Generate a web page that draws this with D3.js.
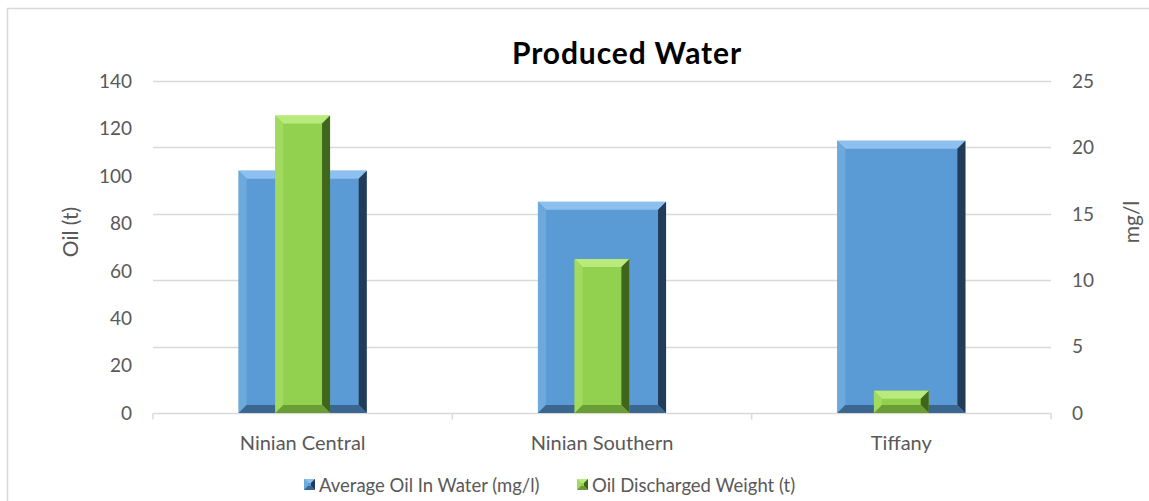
<!DOCTYPE html>
<html>
<head>
<meta charset="utf-8">
<script src="https://cdn.jsdelivr.net/npm/d3@7"></script>
<style>
  html, body { margin: 0; padding: 0; background: #fff; }
  svg { display: block; }
</style>
</head>
<body>
<div id="chart"></div>
<script>
// data
const categories = ["Ninian Central", "Ninian Southern", "Tiffany"];
const avgOilInWater = [18.25, 15.9, 20.5];      // mg/l, right axis
const oilDischarged = [125.4, 64.9, 9.4];       // t, left axis
const leftTicks = [0, 20, 40, 60, 80, 100, 120, 140];
const rightTicks = [0, 5, 10, 15, 20, 25];
const seriesNames = ["Average Oil In Water (mg/l)", "Oil Discharged Weight (t)"];

const width = 1149, height = 501;
const plot = { left: 153, right: 1051, top: 81, bottom: 413 };
const font = "Lato, 'Open Sans', sans-serif";
const textGrey = "#595959";
const gridGrey = "#d9d9d9";

const svg = d3.select("#chart").append("svg")
    .attr("width", width)
    .attr("height", height);

// chart frame
svg.append("rect")
    .attr("x", 7.5).attr("y", 8.5)
    .attr("width", width + 10).attr("height", height + 10)
    .attr("fill", "#fff")
    .attr("stroke", gridGrey)
    .attr("stroke-width", 1.5);

const x = d3.scaleBand()
    .domain(categories)
    .range([plot.left, plot.right])
    .padding(0);
const yLeft = d3.scaleLinear().domain([0, 140]).range([plot.bottom, plot.top]);
const yRight = d3.scaleLinear().domain([0, 25]).range([plot.bottom, plot.top]);

// gridlines follow the right axis
svg.append("g")
    .selectAll("line")
    .data(rightTicks.filter(t => t > 0))
    .join("line")
    .attr("x1", plot.left).attr("x2", plot.right)
    .attr("y1", d => Math.round(yRight(d)) + 0.5)
    .attr("y2", d => Math.round(yRight(d)) + 0.5)
    .attr("stroke", gridGrey)
    .attr("stroke-width", 1.3);

// category axis
const xAxis = svg.append("g")
    .attr("transform", `translate(0, ${plot.bottom + 0.5})`);
xAxis.append("line")
    .attr("x1", plot.left).attr("x2", plot.right)
    .attr("stroke", gridGrey).attr("stroke-width", 1.5);
const bounds = categories.map(c => x(c)).concat([plot.right]);
xAxis.selectAll(".tk")
    .data(bounds)
    .join("line")
    .attr("class", "tk")
    .attr("x1", d => d).attr("x2", d => d)
    .attr("y1", 0).attr("y2", 6)
    .attr("stroke", gridGrey).attr("stroke-width", 1.5);
xAxis.selectAll("text")
    .data(categories)
    .join("text")
    .attr("x", d => x(d) + x.bandwidth() / 2)
    .attr("y", 36)
    .attr("text-anchor", "middle")
    .attr("fill", textGrey)
    .style("font-family", font)
    .style("font-size", "20px")
    .text(d => d);

// left axis labels
svg.append("g")
    .selectAll("text")
    .data(leftTicks)
    .join("text")
    .attr("x", 132)
    .attr("y", d => yLeft(d))
    .attr("dy", "0.36em")
    .attr("text-anchor", "end")
    .attr("fill", textGrey)
    .style("font-family", font)
    .style("font-size", "19px")
    .text(d => d);

// right axis labels
svg.append("g")
    .selectAll("text")
    .data(rightTicks)
    .join("text")
    .attr("x", 1072)
    .attr("y", d => yRight(d))
    .attr("dy", "0.36em")
    .attr("fill", textGrey)
    .style("font-family", font)
    .style("font-size", "19px")
    .text(d => d);

// axis titles
svg.append("text")
    .attr("transform", `translate(78, 232) rotate(-90)`)
    .attr("text-anchor", "middle")
    .attr("fill", textGrey)
    .style("font-family", font)
    .style("font-size", "21px")
    .text("Oil (t)");
svg.append("text")
    .attr("transform", `translate(1139, 222) rotate(-90)`)
    .attr("text-anchor", "middle")
    .attr("fill", textGrey)
    .style("font-family", font)
    .style("font-size", "21px")
    .text("mg/l");

// title
svg.append("text")
    .attr("x", 627).attr("y", 64)
    .attr("text-anchor", "middle")
    .attr("fill", "#000")
    .style("font-family", font)
    .style("font-size", "30px")
    .style("font-weight", "bold")
    .style("letter-spacing", "0.9px")
    .text("Produced Water");

// bevelled bar, excel style
const palette = [
    { base: "#5b9bd5", top: "#8dc0ee", left: "#6ea9dd", right: "#223b56", bottom: "#3a6690" },
    { base: "#92d050", top: "#b9eb7c", left: "#a2da5f", right: "#3f661a", bottom: "#6a9e35" }
];
function bevelBar(g, x0, y0, w, h, c, b) {
    b = Math.min(b, h / 2, w / 2);
    const x1 = x0 + w, y1 = y0 + h;
    g.append("rect").attr("x", x0).attr("y", y0).attr("width", w).attr("height", h).attr("fill", c.base);
    const poly = (pts, fill) => g.append("polygon")
        .attr("points", pts.map(p => p.join(",")).join(" "))
        .attr("fill", fill);
    poly([[x0, y0], [x1, y0], [x1 - b, y0 + b], [x0 + b, y0 + b]], c.top);
    poly([[x0, y0], [x0 + b, y0 + b], [x0 + b, y1 - b], [x0, y1]], c.left);
    poly([[x1, y0], [x1, y1], [x1 - b, y1 - b], [x1 - b, y0 + b]], c.right);
    poly([[x0, y1], [x0 + b, y1 - b], [x1 - b, y1 - b], [x1, y1]], c.bottom);
}

const bars = svg.append("g");
const blueW = x.bandwidth() * 0.428;
const greenW = x.bandwidth() * 0.183;
categories.forEach((cat, i) => {
    const cx = x(cat) + x.bandwidth() / 2;
    const yb = yRight(avgOilInWater[i]);
    bevelBar(bars, cx - blueW / 2, yb, blueW, plot.bottom - yb, palette[0], 8);
    const yg = yLeft(oilDischarged[i]);
    bevelBar(bars, cx - greenW / 2, yg, greenW, plot.bottom - yg, palette[1], 8);
});

// legend
const legend = svg.append("g");
const legendPos = [304, 577];
seriesNames.forEach((name, i) => {
    const lg = legend.append("g").attr("transform", `translate(${legendPos[i]}, 479)`);
    bevelBar(lg, 0, 0, 11, 11, palette[i], 4);
    lg.append("text")
        .attr("x", 15).attr("y", 6)
        .attr("dy", "0.36em")
        .attr("fill", textGrey)
        .style("font-family", font)
        .style("font-size", "18.5px")
        .text(name);
});
</script>
</body>
</html>
